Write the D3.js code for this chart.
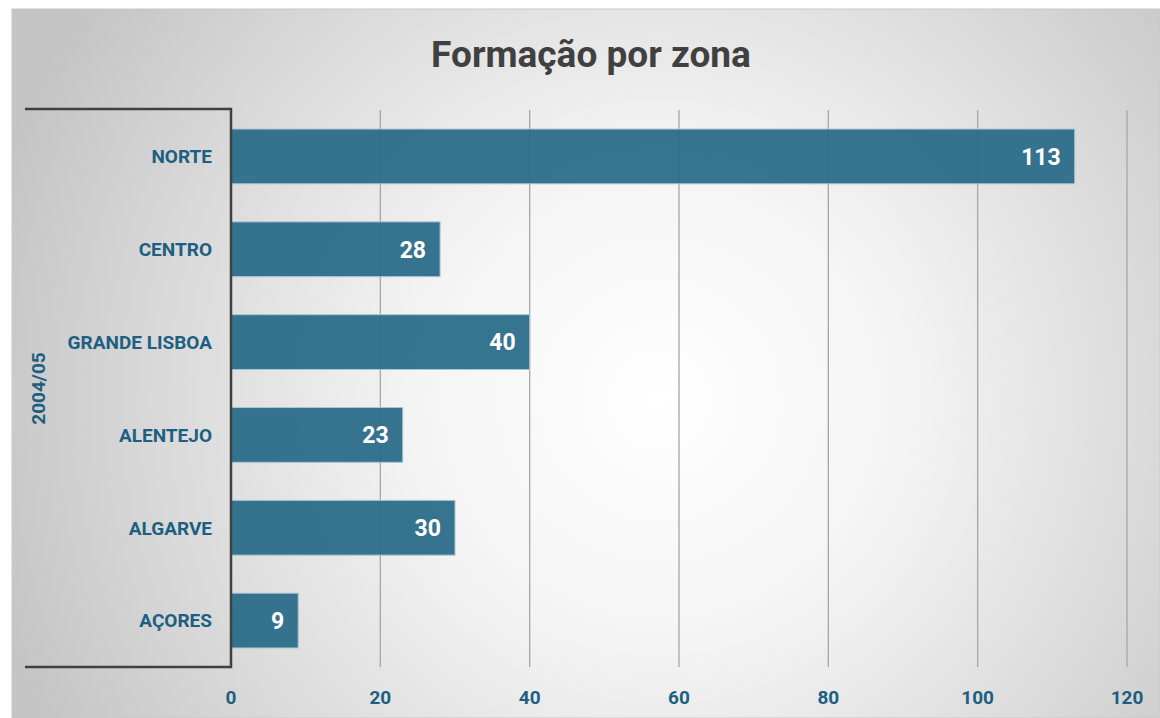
<!DOCTYPE html>
<html>
<head>
<meta charset="utf-8">
<script src="https://cdn.jsdelivr.net/npm/d3@7"></script>
<style>
  body { margin: 0; background: #fff; }
  svg { display: block; }
</style>
</head>
<body>
<svg width="1160" height="718"></svg>
<script>
// Formação por zona - horizontal bars

const zonas = ["NORTE", "CENTRO", "GRANDE LISBOA", "ALENTEJO", "ALGARVE", "AÇORES"];
const valores = [113, 28, 40, 23, 30, 9];
const xTicks = [0, 20, 40, 60, 80, 100, 120];
const grupo = "2004/05";

const cond = "'Liberation Sans Narrow', 'Roboto', sans-serif";
const teal = "#1d5f80";

let svg = d3.select("svg");

// background gradient
let defs = svg.append("defs");
let grad = defs.append("radialGradient")
    .attr("id", "bg")
    .attr("gradientUnits", "userSpaceOnUse")
    .attr("cx", 660).attr("cy", 400).attr("r", 700);
grad.append("stop").attr("offset", "0%").attr("stop-color", "#ffffff");
grad.append("stop").attr("offset", "35%").attr("stop-color", "#f4f4f4");
grad.append("stop").attr("offset", "100%").attr("stop-color", "#c4c4c4");

svg.append("rect")
    .attr("x", 12).attr("y", 9)
    .attr("width", 1160 - 12).attr("height", 718 - 9)
    .attr("fill", "url(#bg)")
    .attr("stroke", "#c8c8c8")
    .attr("stroke-width", 1);

let plotL = 231, plotR = 1127, plotT = 110, plotB = 667;

let x = d3.scaleLinear()
    .domain([0, 120])
    .range([plotL, plotR]);
let y = d3.scaleBand()
    .domain(zonas)
    .range([plotT, plotB])
    .paddingInner(0.41)
    .paddingOuter(0.205);

// gridlines
svg.append("g")
    .selectAll("line")
    .data(xTicks.filter(d => d > 0))
    .enter().append("line")
    .attr("x1", d => x(d)).attr("x2", d => x(d))
    .attr("y1", plotT).attr("y2", plotB)
    .attr("stroke", "#a6a6a6")
    .attr("stroke-width", 1.3);

// bars
svg.append("g")
    .selectAll("rect")
    .data(zonas)
    .enter().append("rect")
    .attr("x", x(0))
    .attr("y", d => y(d))
    .attr("width", (d, i) => x(valores[i]) - x(0))
    .attr("height", y.bandwidth())
    .attr("fill", "#266887")
    .attr("fill-opacity", 0.92)
    .attr("stroke", "#a9c6d4")
    .attr("stroke-width", 1);

// value labels
svg.append("g")
    .selectAll("text")
    .data(zonas)
    .enter().append("text")
    .attr("x", (d, i) => x(valores[i]) - 14)
    .attr("y", d => y(d) + y.bandwidth() / 2)
    .attr("dy", "0.36em")
    .attr("text-anchor", "end")
    .attr("fill", "#ffffff")
    .attr("font-family", "Roboto, sans-serif")
    .attr("font-weight", "bold")
    .attr("font-size", "23px")
    .text((d, i) => valores[i]);

// category labels
svg.append("g")
    .selectAll("text")
    .data(zonas)
    .enter().append("text")
    .attr("x", 212)
    .attr("y", d => y(d) + y.bandwidth() / 2)
    .attr("dy", "0.36em")
    .attr("text-anchor", "end")
    .attr("fill", teal)
    .attr("font-family", cond)
    .attr("font-weight", "bold")
    .attr("font-size", "19px")
    .text(d => d);

// bracket of the category axis
svg.append("path")
    .attr("d", "M25," + (plotT - 1) + "H" + plotL + "V" + plotB + "H25")
    .attr("fill", "none")
    .attr("stroke", "#404040")
    .attr("stroke-width", 2.5);

// group label
svg.append("text")
    .attr("transform", "translate(45," + ((plotT + plotB) / 2) + ") rotate(-90)")
    .attr("text-anchor", "middle")
    .attr("fill", teal)
    .attr("font-family", cond)
    .attr("font-weight", "bold")
    .attr("font-size", "19px")
    .text(grupo);

// x axis tick labels
svg.append("g")
    .selectAll("text")
    .data(xTicks)
    .enter().append("text")
    .attr("x", d => x(d))
    .attr("y", 704)
    .attr("text-anchor", "middle")
    .attr("fill", teal)
    .attr("font-family", cond)
    .attr("font-weight", "bold")
    .attr("font-size", "19px")
    .text(d => d);

// title
svg.append("text")
    .attr("x", 591)
    .attr("y", 67)
    .attr("text-anchor", "middle")
    .attr("fill", "#404040")
    .attr("font-family", cond)
    .attr("font-weight", "bold")
    .attr("font-size", "37px")
    .text("Formação por zona");
</script>
</body>
</html>
